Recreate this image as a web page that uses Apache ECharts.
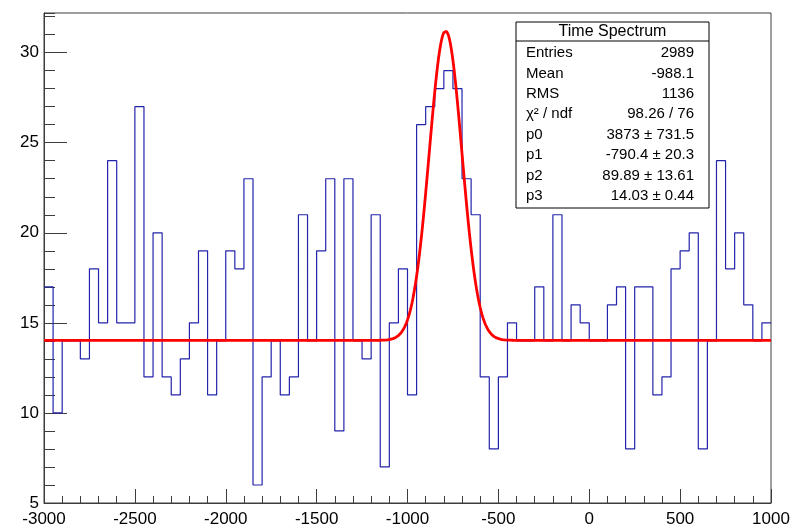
<!DOCTYPE html>
<html>
<head>
<meta charset="utf-8">
<script src="https://cdn.jsdelivr.net/npm/echarts@6/dist/echarts.min.js"></script>
<style>
html, body { margin: 0; padding: 0; background: #ffffff; }
#chart { width: 793px; height: 529px; }
</style>
</head>
<body>
<div id="chart"></div>
<script>
// Histogram binning: 80 bins of width 50 starting at -3000
const binLow = -3000;
const binWidth = 50;
const counts = [
  17, 10, 14, 14, 13, 18, 15, 24, 15, 15,
  27, 12, 20, 12, 11, 13, 15, 19, 11, 14,
  19, 18, 23, 6, 12, 14, 11, 12, 21, 14,
  19, 23, 9, 23, 14, 13, 21, 7, 15, 18,
  11, 26, 27, 28, 29, 28, 23, 21, 12, 8,
  12, 15, 14, 14, 17, 14, 21, 14, 16, 15,
  14, 14, 16, 17, 8, 17, 17, 11, 12, 18,
  19, 20, 8, 14, 24, 18, 20, 16, 14, 15
];

// Fit: normalised gaussian + constant, p0..p3
const fitParams = [3873, -790.4, 89.89, 14.03];
const fitPoints = 800;

// Statistics box contents
const statTitle = 'Time Spectrum';
const statLabels = ['Entries', 'Mean', 'RMS', 'χ² / ndf', 'p0', 'p1', 'p2', 'p3'];
const statValues = ['2989', '-988.1', '1136', '98.26 / 76', '3873 ± 731.5', '-790.4 ± 20.3', '89.89 ± 13.61', '14.03 ± 0.44'];

// Axis ranges
const xRange = [-3000, 1000];
const yRange = [5, 32.2];

const FONT = '"Liberation Sans", Arial, Helvetica, sans-serif';
const AXIS_COLOR = '#3c3c3c';

// Step outline of the histogram: one point per lower bin edge plus the last upper edge
const histData = counts.map((c, i) => [binLow + i * binWidth, c]);
histData.push([binLow + counts.length * binWidth, counts[counts.length - 1]]);

function fitFunc(x) {
  const [p0, p1, p2, p3] = fitParams;
  const z = (x - p1) / p2;
  return p0 / (Math.sqrt(2 * Math.PI) * p2) * Math.exp(-0.5 * z * z) + p3;
}
const fitData = [];
for (let k = 0; k <= fitPoints; k++) {
  const x = xRange[0] + (xRange[1] - xRange[0]) * k / fitPoints;
  fitData.push([x, fitFunc(x)]);
}

// Stat box layout
const box = { x: 516, y: 22, w: 193, h: 186, titleH: 19, row0: 53, rowStep: 20.4, padL: 10, padR: 15 };
const boxGraphics = [
  { type: 'rect', shape: { x: box.x, y: box.y, width: box.w, height: box.h },
    style: { fill: '#ffffff', stroke: '#000000', lineWidth: 1 }, z: 100 },
  { type: 'line', shape: { x1: box.x, y1: box.y + box.titleH, x2: box.x + box.w, y2: box.y + box.titleH },
    style: { stroke: '#000000', lineWidth: 1 }, z: 101 },
  { type: 'text', x: box.x + box.w / 2, y: box.y + box.titleH / 2 + 0.5, z: 101,
    style: { text: statTitle, font: '16px ' + FONT, fill: '#000', align: 'center', verticalAlign: 'middle' } }
];
statLabels.forEach((lab, i) => {
  const yy = box.row0 + i * box.rowStep;
  boxGraphics.push({ type: 'text', x: box.x + box.padL, y: yy, z: 101,
    style: { text: lab, font: '15px ' + FONT, fill: '#000', align: 'left', verticalAlign: 'middle' } });
  boxGraphics.push({ type: 'text', x: box.x + box.w - box.padR, y: yy, z: 101,
    style: { text: statValues[i], font: '15px ' + FONT, fill: '#000', align: 'right', verticalAlign: 'middle' } });
});

const chart = echarts.init(document.getElementById('chart'), null, { renderer: 'canvas' });
chart.setOption({
  animation: false,
  backgroundColor: '#ffffff',
  grid: {
    left: 44, right: 22, top: 13, bottom: 26,
    show: true, borderColor: AXIS_COLOR, borderWidth: 1, backgroundColor: 'transparent'
  },
  xAxis: {
    type: 'value', min: xRange[0], max: xRange[1], interval: 500,
    axisLine: { show: true, onZero: false, lineStyle: { color: AXIS_COLOR, width: 1 } },
    axisTick: { show: true, inside: true, length: 14, lineStyle: { color: AXIS_COLOR } },
    minorTick: { show: true, splitNumber: 5, length: 7, lineStyle: { color: AXIS_COLOR } },
    splitLine: { show: false },
    axisLabel: { fontFamily: FONT, fontSize: 17, color: '#000', margin: 8,
      showMinLabel: true, showMaxLabel: true, hideOverlap: false,
      formatter: v => String(v) }
  },
  yAxis: [
    {
      type: 'value', min: yRange[0], max: yRange[1], interval: 5, position: 'left', offset: 0,
      axisLine: { show: true, onZero: false, lineStyle: { color: AXIS_COLOR, width: 1 } },
      axisTick: { show: true, inside: true, length: 23, lineStyle: { color: AXIS_COLOR } },
      splitLine: { show: false },
      axisLabel: { fontFamily: FONT, fontSize: 17, color: '#000', margin: 5, showMaxLabel: false }
    },
    {
      type: 'value', min: yRange[0], max: yRange[1], interval: 1, position: 'left', offset: 0,
      axisLine: { show: false, onZero: false },
      axisTick: { show: true, inside: true, length: 11, lineStyle: { color: AXIS_COLOR } },
      splitLine: { show: false },
      axisLabel: { show: false }
    }
  ],
  series: [
    {
      name: 'histogram', type: 'line', step: 'end', data: histData,
      yAxisIndex: 0, symbol: 'none', clip: true,
      lineStyle: { color: '#2323ac', width: 1.2 }, z: 3
    },
    {
      name: 'fit', type: 'line', data: fitData, smooth: false,
      yAxisIndex: 0, symbol: 'none', clip: true,
      lineStyle: { color: '#ff0000', width: 2.8 }, z: 4
    }
  ],
  graphic: boxGraphics
});
</script>
</body>
</html>
